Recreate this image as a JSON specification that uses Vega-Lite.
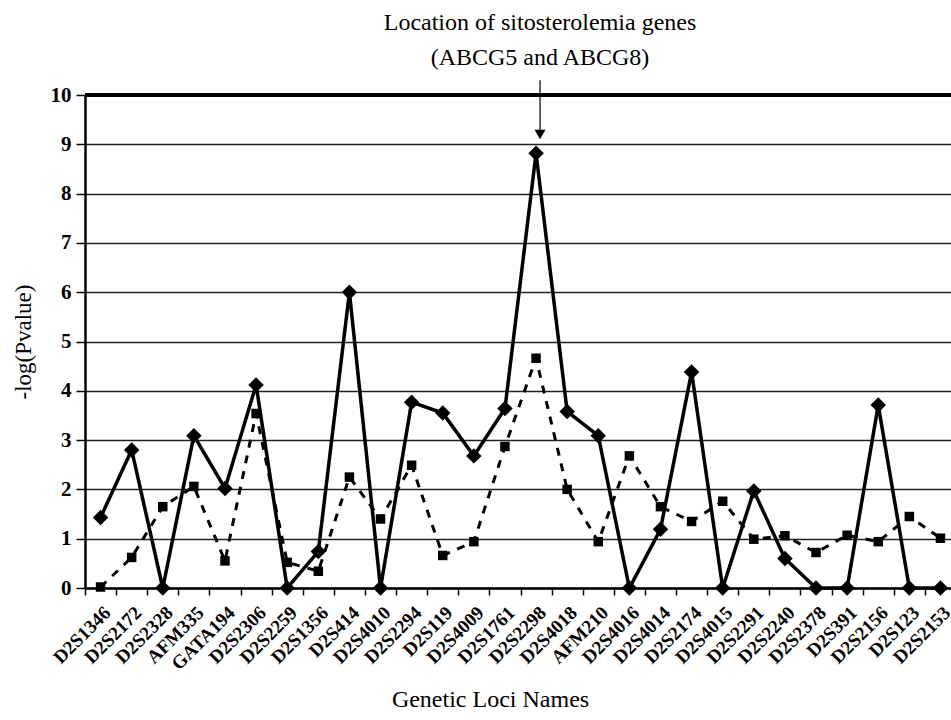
{
  "$schema": "https://vega.github.io/schema/vega-lite/v6.json",
  "width": 866,
  "height": 493,
  "autosize": {"type": "none"},
  "padding": {"left": 85, "top": 95, "right": 0, "bottom": 132},
  "background": "white",
  "config": {
    "view": {"stroke": null},
    "font": "Liberation Serif"
  },
  "title": {
    "text": ["Location of sitosterolemia genes", "(ABCG5 and ABCG8)"],
    "font": "Liberation Serif",
    "fontSize": 24,
    "fontWeight": "normal",
    "color": "black",
    "lineHeight": 35,
    "offset": 10,
    "anchor": "middle",
    "dx": 22
  },
  "datasets": {
    "loci": [
      {"locus": "D2S1346", "series": "A", "value": 1.43},
      {"locus": "D2S2172", "series": "A", "value": 2.80},
      {"locus": "D2S2328", "series": "A", "value": 0},
      {"locus": "AFM335", "series": "A", "value": 3.09},
      {"locus": "GATA194", "series": "A", "value": 2.02},
      {"locus": "D2S2306", "series": "A", "value": 4.12},
      {"locus": "D2S2259", "series": "A", "value": 0},
      {"locus": "D2S1356", "series": "A", "value": 0.74},
      {"locus": "D2S414", "series": "A", "value": 6.0},
      {"locus": "D2S4010", "series": "A", "value": 0},
      {"locus": "D2S2294", "series": "A", "value": 3.77},
      {"locus": "D2S119", "series": "A", "value": 3.55},
      {"locus": "D2S4009", "series": "A", "value": 2.68},
      {"locus": "D2S1761", "series": "A", "value": 3.64},
      {"locus": "D2S2298", "series": "A", "value": 8.82},
      {"locus": "D2S4018", "series": "A", "value": 3.58},
      {"locus": "AFM210", "series": "A", "value": 3.09},
      {"locus": "D2S4016", "series": "A", "value": 0},
      {"locus": "D2S4014", "series": "A", "value": 1.19},
      {"locus": "D2S2174", "series": "A", "value": 4.38},
      {"locus": "D2S4015", "series": "A", "value": 0},
      {"locus": "D2S2291", "series": "A", "value": 1.97},
      {"locus": "D2S2240", "series": "A", "value": 0.60},
      {"locus": "D2S2378", "series": "A", "value": 0},
      {"locus": "D2S391", "series": "A", "value": 0},
      {"locus": "D2S2156", "series": "A", "value": 3.71},
      {"locus": "D2S123", "series": "A", "value": 0},
      {"locus": "D2S2153", "series": "A", "value": 0},
      {"locus": "D2S1346", "series": "B", "value": 0.02},
      {"locus": "D2S2172", "series": "B", "value": 0.62},
      {"locus": "D2S2328", "series": "B", "value": 1.65},
      {"locus": "AFM335", "series": "B", "value": 2.06},
      {"locus": "GATA194", "series": "B", "value": 0.55},
      {"locus": "D2S2306", "series": "B", "value": 3.54},
      {"locus": "D2S2259", "series": "B", "value": 0.52},
      {"locus": "D2S1356", "series": "B", "value": 0.34},
      {"locus": "D2S414", "series": "B", "value": 2.25},
      {"locus": "D2S4010", "series": "B", "value": 1.40},
      {"locus": "D2S2294", "series": "B", "value": 2.49},
      {"locus": "D2S119", "series": "B", "value": 0.66},
      {"locus": "D2S4009", "series": "B", "value": 0.94},
      {"locus": "D2S1761", "series": "B", "value": 2.87},
      {"locus": "D2S2298", "series": "B", "value": 4.66},
      {"locus": "D2S4018", "series": "B", "value": 2.00},
      {"locus": "AFM210", "series": "B", "value": 0.94},
      {"locus": "D2S4016", "series": "B", "value": 2.68},
      {"locus": "D2S4014", "series": "B", "value": 1.65},
      {"locus": "D2S2174", "series": "B", "value": 1.35},
      {"locus": "D2S4015", "series": "B", "value": 1.76},
      {"locus": "D2S2291", "series": "B", "value": 0.99},
      {"locus": "D2S2240", "series": "B", "value": 1.06},
      {"locus": "D2S2378", "series": "B", "value": 0.72},
      {"locus": "D2S391", "series": "B", "value": 1.07},
      {"locus": "D2S2156", "series": "B", "value": 0.94},
      {"locus": "D2S123", "series": "B", "value": 1.45},
      {"locus": "D2S2153", "series": "B", "value": 1.01}
    ],
    "arrow": [
      {"locus": "D2S2298", "top": 10.3, "tip": 9.2}
    ]
  },
  "data": {"name": "loci"},
  "encoding": {
    "x": {
      "field": "locus",
      "type": "nominal",
      "sort": null,
      "scale": {"type": "band", "paddingInner": 0, "paddingOuter": 0, "range": [0, 871]},
      "axis": {
        "title": "Genetic Loci Names",
        "titleFont": "Liberation Serif",
        "titleFontSize": 24,
        "titleFontWeight": "normal",
        "titleColor": "black",
        "titlePadding": 14,
        "titleX": 405,
        "labelAngle": -45,
        "labelFont": "Liberation Serif",
        "labelFontSize": 19,
        "labelFontWeight": "bold",
        "labelColor": "black",
        "labelPadding": 8,
        "labelDx": -8,
        "labelOverlap": false,
        "tickBand": "extent",
        "tickColor": "black",
        "tickWidth": 1.5,
        "tickSize": 7,
        "domainColor": "black",
        "domainWidth": 2.5,
        "grid": false
      }
    },
    "y": {
      "field": "value",
      "type": "quantitative",
      "scale": {"domain": [0, 10], "nice": false},
      "axis": {
        "title": "-log(Pvalue)",
        "titleFont": "Liberation Serif",
        "titleFontSize": 23,
        "titleFontWeight": "normal",
        "titleColor": "black",
        "titlePadding": 15,
        "values": [0, 1, 2, 3, 4, 5, 6, 7, 8, 9, 10],
        "labelFont": "Liberation Serif",
        "labelFontSize": 21,
        "labelFontWeight": "bold",
        "labelColor": "black",
        "labelPadding": 5,
        "tickColor": "black",
        "tickWidth": 1.5,
        "tickSize": 9,
        "domainColor": "black",
        "domainWidth": 2.5,
        "grid": true,
        "gridColor": "#222222",
        "gridWidth": 1.4,
        "gridOpacity": 1
      }
    }
  },
  "layer": [
    {
      "mark": {"type": "rule", "color": "black", "strokeWidth": 3},
      "encoding": {"x": null, "y": {"datum": 10}}
    },
    {
      "transform": [{"filter": "datum.series === 'B'"}],
      "mark": {"type": "line", "color": "black", "strokeWidth": 3, "strokeDash": [8, 8]}
    },
    {
      "transform": [{"filter": "datum.series === 'B'"}],
      "mark": {"type": "point", "shape": "square", "filled": true, "color": "black", "size": 90, "opacity": 1}
    },
    {
      "transform": [{"filter": "datum.series === 'A'"}],
      "mark": {"type": "line", "color": "black", "strokeWidth": 3.5}
    },
    {
      "transform": [{"filter": "datum.series === 'A'"}],
      "mark": {"type": "point", "shape": "diamond", "filled": true, "color": "black", "size": 240, "opacity": 1}
    },
    {
      "data": {"name": "arrow"},
      "mark": {"type": "rule", "color": "black", "strokeWidth": 1.2, "xOffset": 4},
      "encoding": {
        "y": {"field": "top", "type": "quantitative"},
        "y2": {"field": "tip"}
      }
    },
    {
      "data": {"name": "arrow"},
      "mark": {"type": "point", "shape": "triangle-down", "filled": true, "color": "black", "size": 120, "opacity": 1, "xOffset": 4},
      "encoding": {
        "y": {"field": "tip", "type": "quantitative"}
      }
    }
  ]
}
